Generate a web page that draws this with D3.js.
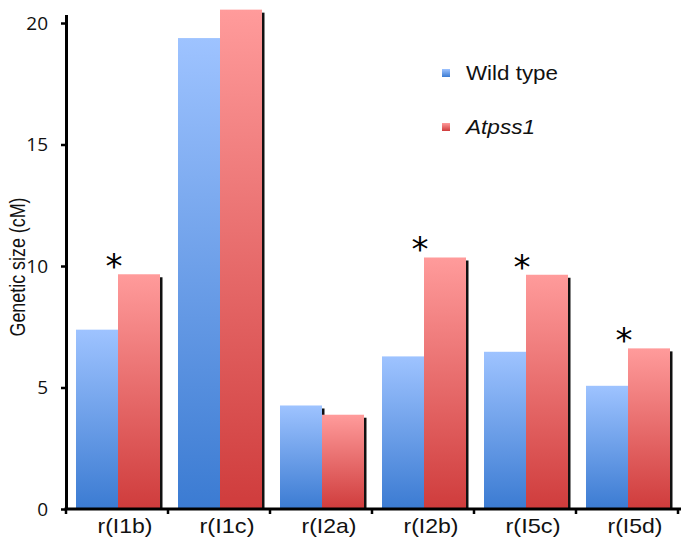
<!DOCTYPE html>
<html>
<head>
<meta charset="utf-8">
<script src="https://cdn.jsdelivr.net/npm/d3@7"></script>
<style>
  html, body { margin: 0; padding: 0; background: #fff; }
  svg { display: block; }
</style>
</head>
<body>
<div id="chart"></div>
<script>
// ---- data ----
const categories = ["r(I1b)", "r(I1c)", "r(I2a)", "r(I2b)", "r(I5c)", "r(I5d)"];
const seriesNames = ["Wild type", "Atpss1"];
const wildType = [7.38, 19.38, 4.26, 6.28, 6.47, 5.07];
const atpss1   = [9.66, 20.55, 3.88, 10.35, 9.64, 6.61];
const significant = [true, false, false, true, true, true];
const yTicks = [0, 5, 10, 15, 20];

// ---- layout ----
const W = 686, H = 545;
const svg = d3.select("#chart").append("svg").attr("width", W).attr("height", H);
const defs = svg.append("defs");

function grad(id, top, bottom) {
  const g = defs.append("linearGradient").attr("id", id)
    .attr("x1", 0).attr("y1", 0).attr("x2", 0).attr("y2", 1);
  g.append("stop").attr("offset", "0%").attr("stop-color", top);
  g.append("stop").attr("offset", "100%").attr("stop-color", bottom);
}
grad("gBlue", "#9ec3ff", "#3b7bd2");
grad("gRed", "#ff9b9b", "#cf3c3c");
const fills = ["url(#gBlue)", "url(#gRed)"];

const x0 = 66, x1end = 678;
const x = d3.scaleBand().domain(categories).range([x0, x1end]).paddingInner(0).paddingOuter(0);
const xs = d3.scaleBand().domain(seriesNames).range([10, 94]).padding(0);
const y = d3.scaleLinear().domain([0, 20.35]).range([509, 14.5]);

const rows = categories.map((c, i) => ({ cat: c, vals: [wildType[i], atpss1[i]], sig: significant[i] }));

// bars with shadows
const groups = svg.append("g").selectAll("g").data(rows).join("g")
  .attr("transform", d => `translate(${x(d.cat)},0)`);

groups.each(function(d) {
  const g = d3.select(this);
  d.vals.forEach((v, k) => {
    const bx = xs(seriesNames[k]);
    g.append("rect")
      .attr("x", bx + 2.5).attr("y", y(v) + 3)
      .attr("width", xs.bandwidth()).attr("height", y(0) - y(v) - 3)
      .attr("fill", "#111");
    g.append("rect")
      .attr("x", bx).attr("y", y(v))
      .attr("width", xs.bandwidth()).attr("height", y(0) - y(v))
      .attr("fill", fills[k]);
  });
  if (d.sig) {
    g.append("text")
      .attr("x", 48).attr("y", y(d.vals[1]) + 4)
      .attr("text-anchor", "middle")
      .attr("font-family", "DejaVu Sans, sans-serif")
      .attr("font-size", 34)
      .attr("fill", "#000")
      .text("*");
  }
});

// y axis
const yAxis = svg.append("g").attr("transform", `translate(${x0},0)`)
  .call(d3.axisLeft(y).tickValues(yTicks).tickSize(5).tickSizeOuter(0).tickPadding(13));
yAxis.select(".domain").attr("stroke", "#000").attr("stroke-width", 3);
yAxis.selectAll(".tick line").attr("stroke", "#000").attr("stroke-width", 2.5);
yAxis.selectAll(".tick text")
  .attr("font-family", "Open Sans, Noto Sans, sans-serif")
  .attr("font-size", 19).attr("fill", "#111");

// x axis line and boundary ticks
const xAxis = svg.append("g").attr("transform", `translate(0,${y(0)})`);
xAxis.append("line").attr("x1", x0 - 1.5).attr("x2", 681).attr("y1", 0).attr("y2", 0)
  .attr("stroke", "#000").attr("stroke-width", 3);
const bounds = categories.map(c => x(c)).concat([x1end]);
xAxis.selectAll("line.tk").data(bounds).join("line").attr("class", "tk")
  .attr("x1", d => d).attr("x2", d => d).attr("y1", 0).attr("y2", 5)
  .attr("stroke", "#000").attr("stroke-width", 2.5);
xAxis.selectAll("text").data(categories).join("text")
  .attr("x", d => x(d) + x.bandwidth() / 2 + 8)
  .attr("y", 24)
  .attr("text-anchor", "middle")
  .attr("font-family", "Liberation Sans, Arial, sans-serif")
  .attr("font-size", 21)
  .attr("textLength", 55).attr("lengthAdjust", "spacingAndGlyphs")
  .attr("fill", "#111")
  .text(d => d);

// y axis title (horizontally stretched like the source figure)
svg.append("text")
  .attr("transform", `translate(25,267) scale(1.25,1) rotate(-90)`)
  .attr("text-anchor", "middle")
  .attr("font-family", "Liberation Sans, Arial, sans-serif")
  .attr("font-size", 18)
  .attr("textLength", 139).attr("lengthAdjust", "spacingAndGlyphs")
  .attr("fill", "#111")
  .text("Genetic size (cM)");

// legend
const legend = svg.append("g");
const legItems = [
  { name: seriesNames[0], fill: fills[0], italic: false, ly: 73, len: 92 },
  { name: seriesNames[1], fill: fills[1], italic: true, ly: 127, len: 69 }
];
legItems.forEach(it => {
  legend.append("rect").attr("x", 442).attr("y", it.ly - 4).attr("width", 8).attr("height", 8).attr("fill", it.fill);
  legend.append("text").attr("x", 466).attr("y", it.ly + 7)
    .attr("font-family", "Liberation Sans, Arial, sans-serif")
    .attr("font-size", 21)
    .attr("font-style", it.italic ? "italic" : "normal")
    .attr("textLength", it.len).attr("lengthAdjust", "spacingAndGlyphs")
    .attr("fill", "#111")
    .text(it.name);
});
</script>
</body>
</html>
